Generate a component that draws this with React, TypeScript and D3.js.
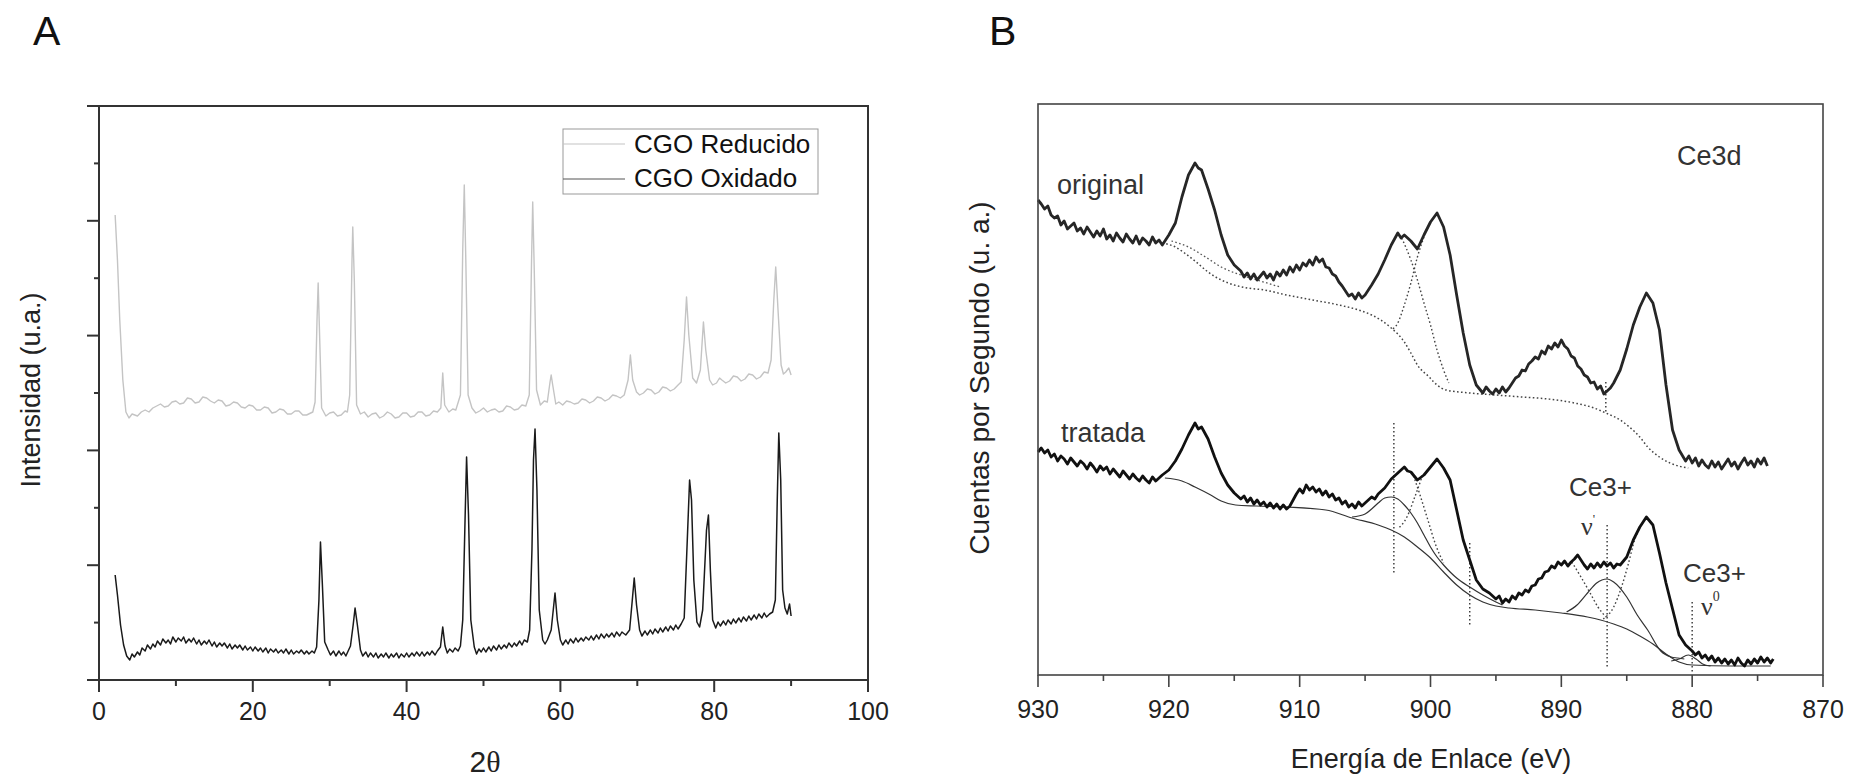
import React from 'react';
import * as d3 from 'd3';

type P = [number, number];

// ---------- Panel A (XRD) data ----------
const xrdXTicks = [0, 20, 40, 60, 80, 100];
const xrdXMinor = [10, 30, 50, 70, 90];
const xrdYTicks = d3.range(11).map((i) => i * 57.4);
const xrdSeriesNames = ['CGO Reducido', 'CGO Oxidado'];

const reducido: P[] = [
  [2.1, 465], [2.4, 420], [2.7, 360], [3.1, 300], [3.5, 268], [3.9, 262], [4.3, 266], [5, 264], [5.5, 268], [6, 270], [6.5, 268], [7, 272],
  [7.5, 274], [8, 276], [8.5, 273], [9, 274], [9.5, 278], [10, 279], [10.5, 276], [11, 277], [11.5, 282], [12, 281], [12.5, 277], [13, 278], [13.5, 283], [14, 282], [14.5, 279], [15, 277], [15.5, 280], [16, 279], [16.5, 274], [17, 275],
  [17.5, 278], [18, 277], [18.5, 273], [19, 272], [19.5, 275], [20, 274], [20.5, 270], [21, 270], [21.5, 273], [22, 272], [22.5, 267], [23, 268], [23.5, 271], [24, 270], [24.5, 266], [25, 266], [25.5, 269], [26, 269], [26.5, 265], [27, 265],
  [27.8, 268], [28.1, 278], [28.35, 360], [28.5, 397], [28.65, 355], [28.95, 272], [29.5, 264], [30, 267], [30.5, 268],
  [31, 264], [31.5, 265], [32, 269], [32.3, 268], [32.6, 285], [32.9, 420], [33.0, 453], [33.2, 400], [33.5, 275], [34.0, 266],
  [34.5, 268], [35, 263], [35.5, 266], [36, 267], [36.5, 262], [37, 264], [37.5, 268], [38, 266], [38.5, 262], [39, 263], [39.5, 267], [40, 267], [40.5, 263], [41, 264], [41.5, 268], [42, 268], [42.5, 264], [43, 265], [43.5, 269], [44, 268],
  [44.45, 272], [44.7, 307], [44.95, 275], [45.5, 268], [46, 271], [46.4, 270], [47.0, 285], [47.3, 430], [47.5, 495],
  [47.7, 420], [48.0, 285], [48.5, 272], [49, 267], [49.5, 269], [50, 272], [50.5, 268], [51, 270], [51.5, 271], [52, 268], [52.5, 269], [53, 274], [53.5, 273],
  [54, 270], [54.5, 271], [55, 275], [55.5, 274], [55.95, 285], [56.25, 420], [56.4, 478], [56.6, 410], [56.9, 290], [57.4, 275],
  [57.9, 279], [58.3, 278], [58.65, 298], [58.8, 305], [59.0, 295], [59.4, 276], [59.8, 278], [60.3, 275], [60.8, 279], [61.3, 278], [61.8, 276], [62.3, 277],
  [62.8, 281], [63.3, 280], [63.8, 277], [64.3, 279], [64.8, 283], [65.3, 282], [65.8, 279], [66.3, 281], [66.8, 285], [67.3, 284], [67.8, 282], [68.3, 285], [68.8, 300], [69.1, 325],
  [69.4, 300], [69.9, 288], [70.3, 285], [70.8, 287], [71.3, 291], [71.8, 290], [72.3, 286], [72.8, 288], [73.3, 293], [73.8, 292], [74.3, 289], [74.8, 291], [75.3, 295], [75.7, 298],
  [76.1, 340], [76.4, 383], [76.7, 345], [77.2, 302], [77.7, 297], [78.2, 310], [78.6, 358], [78.9, 330],
  [79.4, 300], [79.8, 295], [80.3, 297], [80.7, 302], [81, 300], [81.5, 297], [82, 299], [82.5, 304], [83, 303], [83.5, 299], [84, 301], [84.5, 306], [85, 305], [85.5, 301], [86, 303], [86.5, 308], [87, 307],
  [87.4, 320], [87.75, 380], [88.0, 413], [88.3, 370], [88.7, 315], [89.0, 306], [89.3, 308], [89.7, 312], [90.0, 305],
];

const oxidado: P[] = [
  [2.1, 105], [2.4, 85], [2.8, 55], [3.2, 35], [3.6, 24], [4.0, 20], [4.3, 26], [4.6, 23], [5, 28], [5.3, 25], [5.6, 32], [6, 29],
  [6.3, 35], [6.7, 31], [7, 36], [7.3, 33], [7.6, 39], [8, 35], [8.3, 41], [8.7, 37], [9, 40], [9.3, 36], [9.6, 43], [10, 38], [10.3, 42], [10.7, 39], [11, 43],
  [11.3, 37], [11.7, 41], [12, 38], [12.3, 42], [12.7, 36], [13, 40], [13.3, 35], [13.7, 39], [14, 36], [14.3, 40], [14.7, 34], [15, 38], [15.3, 33], [15.7, 37], [16, 34],
  [16.3, 37], [16.7, 32], [17, 36], [17.3, 31], [17.7, 35], [18, 32], [18.3, 35], [18.7, 30], [19, 34], [19.3, 30], [19.7, 33], [20, 29], [20.3, 33], [20.7, 29], [21, 32],
  [21.3, 28], [21.7, 32], [22, 27], [22.3, 31], [22.7, 28], [23, 31], [23.3, 27], [23.7, 30], [24, 27], [24.3, 31], [24.7, 26], [25, 30], [25.3, 26], [25.7, 29], [26, 27],
  [26.3, 30], [26.7, 26], [27, 29], [27.3, 26], [27.7, 29], [28, 27], [28.3, 33], [28.6, 80], [28.8, 138], [29.05, 95], [29.35, 38],
  [29.8, 30], [30.1, 25], [30.5, 29], [30.8, 24], [31.2, 29], [31.5, 25], [31.8, 28], [32.1, 24], [32.4, 29], [32.7, 34], [33.05, 55], [33.3, 72],
  [33.6, 55], [34.0, 30], [34.3, 24], [34.7, 28], [35, 23], [35.3, 27], [35.7, 23], [36, 27], [36.3, 22], [36.7, 26], [37, 23], [37.3, 27], [37.7, 22], [38, 26],
  [38.3, 23], [38.7, 27], [39, 22], [39.3, 26], [39.7, 23], [40, 27], [40.3, 23], [40.7, 27], [41, 24], [41.3, 28], [41.7, 24], [42, 28], [42.3, 24], [42.7, 28], [43, 25],
  [43.3, 29], [43.7, 25], [44, 29], [44.4, 33], [44.7, 53], [45.0, 34], [45.3, 27], [45.6, 31], [46, 28], [46.3, 32], [46.7, 29], [47, 34],
  [47.3, 60], [47.6, 160], [47.8, 223], [48.05, 165], [48.35, 60], [48.8, 33], [49.1, 26], [49.4, 31], [49.7, 28],
  [50, 32], [50.3, 28], [50.7, 33], [51, 29], [51.3, 34], [51.7, 30], [52, 35], [52.3, 31], [52.7, 35], [53, 32], [53.3, 37], [53.7, 33], [54, 37], [54.3, 34],
  [54.7, 39], [55, 35], [55.3, 40], [55.7, 38], [56.0, 50], [56.3, 130], [56.5, 220], [56.7, 251], [56.95, 190],
  [57.25, 70], [57.7, 40], [58.0, 36], [58.3, 40], [58.8, 50], [59.3, 87], [59.6, 60], [60.0, 40], [60.3, 35], [60.7, 40],
  [61, 36], [61.3, 41], [61.7, 37], [62, 42], [62.3, 38], [62.7, 42], [63, 39], [63.3, 43], [63.7, 40], [64, 44], [64.3, 40], [64.7, 45], [65, 41], [65.3, 46],
  [65.7, 42], [66, 46], [66.3, 43], [66.7, 47], [67, 43], [67.3, 48], [67.7, 44], [68, 48], [68.5, 45], [69.0, 50], [69.35, 80], [69.6, 102], [69.9, 75],
  [70.3, 50], [70.6, 44], [71, 49], [71.3, 45], [71.7, 50], [72, 46], [72.3, 51], [72.7, 47], [73, 52], [73.3, 48], [73.7, 53], [74, 49], [74.3, 54], [74.7, 50],
  [75, 55], [75.3, 51], [75.7, 56], [76.1, 62], [76.5, 140], [76.8, 200], [77.05, 180], [77.35, 100],
  [77.75, 58], [78.1, 53], [78.5, 70], [79.0, 150], [79.25, 165], [79.5, 110], [79.8, 60], [80.2, 52],
  [80.5, 58], [80.8, 54], [81.2, 59], [81.5, 55], [81.8, 60], [82.2, 56], [82.5, 61], [82.8, 57], [83.2, 62], [83.5, 58], [83.8, 63], [84.2, 59], [84.5, 64],
  [84.8, 60], [85.2, 65], [85.5, 61], [85.8, 66], [86.2, 62], [86.5, 67], [86.8, 63], [87.2, 66], [87.6, 68], [87.95, 80], [88.2, 180],
  [88.4, 247], [88.65, 200], [88.9, 90], [89.2, 72], [89.5, 66], [89.8, 76], [90.0, 64],
];

// ---------- Panel B (XPS Ce3d) data ----------
const xpsXTicks = [930, 920, 910, 900, 890, 880, 870];
const xpsXMinor = [925, 915, 905, 895, 885, 875];

const original: P[] = [
  [930.0, 475], [929.75, 471], [929.5, 466], [929.25, 469], [929.0, 460], [928.75, 457], [928.5, 459], [928.25, 450],
  [928.0, 454], [927.75, 446], [927.5, 449], [927.25, 452], [927.0, 444], [926.75, 447], [926.5, 441], [926.25, 448],
  [926.0, 443], [925.75, 438], [925.5, 444], [925.25, 439], [925.0, 446], [924.75, 436], [924.5, 440], [924.25, 434],
  [924.0, 442], [923.75, 437], [923.5, 433], [923.25, 441], [923.0, 436], [922.75, 432], [922.5, 439], [922.25, 431],
  [922.0, 437], [921.75, 434], [921.5, 430], [921.25, 438], [921.0, 432], [920.75, 435], [920.5, 430],
  [920.0, 440], [919.5, 452], [919.0, 478], [918.5, 500], [918.0, 512], [917.75, 507], [917.5, 505], [917.0, 486],
  [916.5, 465], [916.0, 440], [915.5, 420], [915.0, 410],
  [914.5, 404], [914.25, 398], [914.0, 402], [913.75, 396], [913.5, 401], [913.25, 395], [913.0, 399], [912.75, 403],
  [912.5, 397], [912.25, 401], [912.0, 395], [911.75, 403], [911.5, 399], [911.25, 405], [911.0, 400], [910.75, 408],
  [910.5, 403], [910.25, 410], [910.0, 405], [909.75, 412], [909.5, 409], [909.25, 415], [909.0, 410], [908.75, 418],
  [908.5, 413], [908.25, 416], [908.0, 408], [907.75, 407], [907.5, 401], [907.25, 399], [907.0, 393], [906.75, 389],
  [906.5, 384], [906.25, 379], [906.0, 381], [905.75, 376], [905.5, 382], [905.25, 377], [905.0, 380],
  [904.5, 390], [904.0, 401], [903.5, 415], [903.0, 430], [902.5, 442], [902.25, 437], [902.0, 440], [901.5, 434],
  [901.0, 426], [900.5, 440], [900.0, 453], [899.5, 462], [899.0, 448], [898.5, 420], [898.0, 380], [897.5, 342],
  [897.0, 310], [896.5, 290], [896.25, 286], [896.0, 282], [895.75, 288], [895.5, 284], [895.25, 281], [895.0, 286],
  [894.75, 282], [894.5, 288], [894.25, 283], [894.0, 287], [893.75, 292], [893.5, 297], [893.25, 299], [893.0, 305],
  [892.75, 304], [892.5, 311], [892.25, 314], [892.0, 318], [891.75, 316], [891.5, 324], [891.25, 321], [891.0, 329],
  [890.75, 326], [890.5, 332], [890.25, 328], [890.0, 335], [889.75, 329], [889.5, 326], [889.25, 319], [889.0, 317],
  [888.75, 309], [888.5, 306], [888.25, 300], [888.0, 298], [887.75, 292], [887.5, 293], [887.25, 286], [887.0, 289],
  [886.75, 281], [886.5, 284], [886.25, 287], [886.0, 292], [885.5, 305], [885.0, 326], [884.5, 350], [884.0, 368],
  [883.5, 382], [883.0, 372], [882.5, 345], [882.0, 290], [881.5, 245], [881.0, 225],
  [880.5, 214], [880.25, 219], [880.0, 212], [879.75, 217], [879.5, 209], [879.25, 215], [879.0, 210], [878.75, 207],
  [878.5, 214], [878.25, 208], [878.0, 213], [877.75, 206], [877.5, 211], [877.25, 216], [877.0, 209], [876.75, 213],
  [876.5, 206], [876.25, 212], [876.0, 217], [875.75, 210], [875.5, 214], [875.25, 208], [875.0, 216], [874.75, 211],
  [874.5, 217], [874.25, 209],
];

const originalBackground: P[] = [
  [920.5, 432], [919.5, 428], [918.8, 422], [918.0, 414], [917.0, 403], [916.0, 395], [915.0, 390], [914.0, 387],
  [912.7, 385], [911.0, 380], [909.0, 375], [907.0, 370], [905.5, 365], [904.5, 360], [903.8, 355], [903.0, 347],
  [902.0, 333], [901.5, 322], [901.0, 310], [900.1, 298], [899.5, 290], [898.8, 285], [897.0, 282], [895.0, 280],
  [893.0, 278], [891.0, 276], [889.0, 272], [887.5, 267], [886.6, 262], [885.5, 255], [884.8, 248], [884.0, 238],
  [883.4, 228], [882.5, 218], [881.7, 212], [880.3, 207],
];
const originalBackground2: P[] = [
  [919.8, 434], [918.5, 428], [917.2, 418], [916.0, 408], [914.5, 400], [913.0, 394], [911.5, 388],
];
const originalComp1: P[] = [
  [902.2, 437], [901.5, 415], [901.0, 395], [900.5, 372], [900.0, 350], [899.5, 325], [899.0, 305], [898.6, 292],
];
const originalComp2: P[] = [
  [900.5, 438], [901.0, 418], [901.5, 392], [902.0, 370], [902.5, 352], [903.0, 345],
];

const tratada: P[] = [
  [930.0, 223], [929.75, 227], [929.5, 222], [929.25, 225], [929.0, 218], [928.75, 221], [928.5, 214], [928.25, 219],
  [928.0, 216], [927.75, 211], [927.5, 217], [927.25, 213], [927.0, 209], [926.75, 214], [926.5, 211], [926.25, 206],
  [926.0, 212], [925.75, 208], [925.5, 203], [925.25, 209], [925.0, 205], [924.75, 208], [924.5, 201], [924.25, 206],
  [924.0, 202], [923.75, 198], [923.5, 204], [923.25, 200], [923.0, 196], [922.75, 201], [922.5, 197], [922.25, 194],
  [922.0, 199], [921.75, 195], [921.5, 192], [921.25, 198], [921.0, 194], [920.75, 197], [920.5, 200],
  [920.0, 205], [919.5, 214], [919.0, 226], [918.5, 240], [918.0, 252], [917.75, 246], [917.5, 248], [917.0, 236],
  [916.5, 218], [916.0, 202], [915.5, 190],
  [915.0, 182], [914.75, 179], [914.5, 176], [914.25, 179], [914.0, 173], [913.75, 177], [913.5, 171], [913.25, 175],
  [913.0, 170], [912.75, 173], [912.5, 168], [912.25, 172], [912.0, 167], [911.75, 171], [911.5, 166], [911.25, 170],
  [911.0, 166], [910.75, 169], [910.5, 175], [910.25, 181], [910.0, 186], [909.75, 182], [909.5, 190], [909.25, 185],
  [909.0, 188], [908.75, 183], [908.5, 186], [908.25, 180], [908.0, 184], [907.75, 178], [907.5, 181], [907.25, 175],
  [907.0, 177], [906.75, 171], [906.5, 174], [906.25, 168], [906.0, 171], [905.75, 167], [905.5, 173], [905.25, 169],
  [905.0, 172], [904.75, 175], [904.5, 178], [904.25, 176], [904.0, 181],
  [903.5, 187], [903.0, 196], [902.5, 202], [902.0, 208], [901.75, 204], [901.5, 203], [901.0, 195], [900.5, 200],
  [900.0, 208], [899.5, 216], [899.0, 207], [898.5, 195], [898.0, 165], [897.5, 135], [897.0, 115], [896.5, 95],
  [896.0, 86], [895.5, 82], [895.0, 76], [894.75, 79],
  [894.5, 72], [894.25, 76], [894.0, 73], [893.75, 79], [893.5, 76], [893.25, 82], [893.0, 80], [892.75, 85],
  [892.5, 83], [892.25, 89], [892.0, 90], [891.75, 96], [891.5, 97], [891.25, 103], [891.0, 104], [890.75, 109],
  [890.5, 107], [890.25, 113], [890.0, 110], [889.75, 114], [889.5, 109], [889.25, 113], [889.0, 116], [888.75, 120],
  [888.5, 115], [888.25, 110], [888.0, 106], [887.75, 111], [887.5, 107], [887.25, 112], [887.0, 108], [886.75, 113],
  [886.5, 109], [886.25, 112], [886.0, 107], [885.75, 111], [885.5, 110],
  [885.0, 118], [884.5, 135], [884.0, 148], [883.5, 158], [883.0, 150], [882.5, 122], [882.0, 92], [881.5, 66],
  [881.0, 40], [880.5, 30],
  [880.0, 24], [879.75, 20], [879.5, 23], [879.25, 17], [879.0, 20], [878.75, 15], [878.5, 19], [878.25, 13],
  [878.0, 17], [877.75, 12], [877.5, 16], [877.25, 11], [877.0, 15], [876.75, 10], [876.5, 17], [876.25, 12],
  [876.0, 9], [875.75, 15], [875.5, 11], [875.25, 16], [875.0, 12], [874.75, 18], [874.5, 13], [874.25, 17],
  [874.0, 12], [873.8, 16],
];

const tratadaBackground: P[] = [
  [920.3, 197], [919.0, 194], [918.0, 188], [916.8, 180], [916.0, 174], [914.9, 170], [913.3, 169], [911.0, 168],
  [908.0, 165], [906.0, 157], [904.0, 150], [903.0, 145], [902.0, 138], [901.0, 128], [900.0, 117], [899.0, 103],
  [898.0, 90], [897.0, 80], [896.0, 73], [895.0, 69], [894.0, 67], [892.0, 65], [890.0, 62], [888.0, 58],
  [887.0, 55], [886.0, 51], [885.0, 46], [884.0, 39], [883.0, 31], [882.0, 21], [881.0, 13], [880.0, 10],
  [877.0, 9], [874.0, 9],
];
const tratadaFit903: P[] = [
  [906.0, 158], [905.0, 161], [904.5, 166], [904.0, 172], [903.5, 177], [903.0, 178], [902.5, 176], [902.0, 170],
  [901.5, 162], [901.0, 152], [900.5, 140], [900.0, 128], [899.5, 118], [899.0, 110], [898.5, 103], [898.0, 97],
  [897.0, 88], [896.0, 80], [895.0, 73], [894.5, 70],
];
const tratadaCe3Prime: P[] = [
  [889.6, 63], [888.8, 70], [888.0, 82], [887.3, 92], [886.5, 96], [886.0, 93], [885.0, 78], [884.2, 60],
  [883.4, 45], [882.4, 24], [881.6, 18], [881.1, 17], [880.6, 16],
];
const tratadaCe3Zero: P[] = [
  [881.6, 14], [881.0, 16], [880.3, 20], [879.7, 16], [879.2, 11], [878.6, 9],
];
const tratadaDotted: P[][] = [
  [[900.6, 200], [901.2, 178], [901.8, 158], [902.5, 146]],
  [[901.4, 203], [900.8, 180], [900.2, 155], [899.6, 130], [899.0, 112]],
  [[886.8, 56], [886.0, 68], [885.4, 88], [884.9, 110], [884.4, 135], [883.9, 150]],
  [[889.2, 113], [888.5, 98], [887.8, 82], [887.2, 68], [886.6, 58]],
];
// vertical marker lines: [eV, top, bottom]
const markerLines: [number, number, number][] = [
  [902.8, 252, 102],
  [897.0, 132, 50],
  [886.5, 150, 7],
  [880.0, 73, 2],
  [886.6, 293, 262],
];

const FONT = 'Liberation Sans, Arial, Helvetica, sans-serif';
const SERIF = 'Liberation Serif, Times New Roman, serif';

export default function App() {
  // Panel A scales
  const xA = d3.scaleLinear().domain([0, 100]).range([99, 868]);
  const yA = d3.scaleLinear().domain([0, 574]).range([680, 106]);
  // Panel B scales
  const xB = d3.scaleLinear().domain([930, 870]).range([1038, 1823]);
  const yB = d3.scaleLinear().domain([0, 571]).range([675, 104]);

  const lineA = d3.line<P>().x((d) => xA(d[0])).y((d) => yA(d[1]));
  const lineB = d3.line<P>().x((d) => xB(d[0])).y((d) => yB(d[1]));
  const smoothB = d3
    .line<P>()
    .x((d) => xB(d[0]))
    .y((d) => yB(d[1]))
    .curve(d3.curveMonotoneX);

  const dot = '1.6 2.4';

  return (
    <svg
      width={1850}
      height={779}
      style={{ position: 'absolute', left: 0, top: 0, display: 'block', background: '#fff' }}
      fontFamily={FONT}
    >
      <rect x={0} y={0} width={1850} height={779} fill="#fff" />

      {/* ================= Panel A ================= */}
      <text x={33} y={45} fontSize={41} fill="#111">A</text>

      {/* series */}
      <path d={lineA(reducido) || ''} fill="none" stroke="#c4c4c4" strokeWidth={1.4} strokeLinejoin="round" />
      <path d={lineA(oxidado) || ''} fill="none" stroke="#1a1a1a" strokeWidth={1.5} strokeLinejoin="round" />

      {/* frame */}
      <rect x={xA(0)} y={yA(574)} width={xA(100) - xA(0)} height={yA(0) - yA(574)} fill="none" stroke="#333" strokeWidth={2} />

      {/* x ticks */}
      {xrdXTicks.map((t) => (
        <g key={'xa' + t}>
          <line x1={xA(t)} x2={xA(t)} y1={yA(0)} y2={yA(0) + 12} stroke="#333" strokeWidth={2} />
          <text x={xA(t)} y={720} fontSize={25} textAnchor="middle" fill="#222">{t}</text>
        </g>
      ))}
      {xrdXMinor.map((t) => (
        <line key={'xam' + t} x1={xA(t)} x2={xA(t)} y1={yA(0)} y2={yA(0) + 6} stroke="#333" strokeWidth={2} />
      ))}
      {/* y ticks */}
      {xrdYTicks.map((t, i) => (
        <line key={'ya' + i} x1={xA(0)} x2={xA(0) - (i % 2 === 0 ? 12 : 5)} y1={yA(t)} y2={yA(t)} stroke="#333" strokeWidth={2} />
      ))}

      {/* axis titles */}
      <text x={485} y={772} fontSize={30} textAnchor="middle" fill="#222">
        2<tspan fontFamily={SERIF}>θ</tspan>
      </text>
      <text transform="translate(40,390) rotate(-90)" fontSize={27} textAnchor="middle" fill="#222">
        Intensidad (u.a.)
      </text>

      {/* legend */}
      <rect x={563} y={129} width={255} height={65} fill="#fff" stroke="#999" strokeWidth={1} />
      <line x1={563} x2={625} y1={144} y2={144} stroke="#c4c4c4" strokeWidth={1.2} />
      <line x1={563} x2={625} y1={179} y2={179} stroke="#555" strokeWidth={1.2} />
      <text x={634} y={153} fontSize={26} fill="#111">{xrdSeriesNames[0]}</text>
      <text x={634} y={187} fontSize={26} fill="#111">{xrdSeriesNames[1]}</text>

      {/* ================= Panel B ================= */}
      <text x={989} y={45} fontSize={41} fill="#111">B</text>

      {/* marker lines */}
      {markerLines.map((m, i) => (
        <line key={'mk' + i} x1={xB(m[0])} x2={xB(m[0])} y1={yB(m[1])} y2={yB(m[2])} stroke="#333" strokeWidth={1.4} strokeDasharray={dot} />
      ))}

      {/* original fits */}
      <path d={smoothB(originalBackground) || ''} fill="none" stroke="#444" strokeWidth={1.5} strokeDasharray={dot} />
      <path d={smoothB(originalBackground2) || ''} fill="none" stroke="#555" strokeWidth={1.3} strokeDasharray={dot} />
      <path d={smoothB(originalComp1) || ''} fill="none" stroke="#444" strokeWidth={1.4} strokeDasharray={dot} />
      <path d={smoothB(originalComp2) || ''} fill="none" stroke="#444" strokeWidth={1.4} strokeDasharray={dot} />

      {/* tratada fits */}
      <path d={smoothB(tratadaBackground) || ''} fill="none" stroke="#333" strokeWidth={1.2} />
      <path d={smoothB(tratadaFit903) || ''} fill="none" stroke="#333" strokeWidth={1.2} />
      <path d={smoothB(tratadaCe3Prime) || ''} fill="none" stroke="#333" strokeWidth={1.2} />
      <path d={smoothB(tratadaCe3Zero) || ''} fill="none" stroke="#333" strokeWidth={1.2} />
      {tratadaDotted.map((s, i) => (
        <path key={'td' + i} d={smoothB(s) || ''} fill="none" stroke="#444" strokeWidth={1.4} strokeDasharray={dot} />
      ))}

      {/* spectra */}
      <path d={lineB(original) || ''} fill="none" stroke="#262626" strokeWidth={2.8} strokeLinejoin="round" />
      <path d={lineB(tratada) || ''} fill="none" stroke="#111" strokeWidth={2.8} strokeLinejoin="round" />

      {/* frame */}
      <rect x={xB(930)} y={yB(571)} width={xB(870) - xB(930)} height={yB(0) - yB(571)} fill="none" stroke="#444" strokeWidth={1.6} />

      {/* x ticks */}
      {xpsXTicks.map((t) => (
        <g key={'xb' + t}>
          <line x1={xB(t)} x2={xB(t)} y1={yB(0)} y2={yB(0) + 12} stroke="#444" strokeWidth={1.6} />
          <text x={xB(t)} y={718} fontSize={25} textAnchor="middle" fill="#222">{t}</text>
        </g>
      ))}
      {xpsXMinor.map((t) => (
        <line key={'xbm' + t} x1={xB(t)} x2={xB(t)} y1={yB(0)} y2={yB(0) + 6} stroke="#444" strokeWidth={1.6} />
      ))}

      {/* labels */}
      <text x={1431} y={768} fontSize={27} textAnchor="middle" fill="#222">Energía de Enlace (eV)</text>
      <text transform="translate(989,378) rotate(-90)" fontSize={28} textAnchor="middle" fill="#222">
        Cuentas por Segundo (u. a.)
      </text>
      <text x={1057} y={194} fontSize={27} fill="#333">original</text>
      <text x={1061} y={442} fontSize={27} fill="#333">tratada</text>
      <text x={1677} y={165} fontSize={27} fill="#333">Ce3d</text>
      <text x={1569} y={496} fontSize={26} fill="#333">Ce3+</text>
      <text x={1683} y={582} fontSize={26} fill="#333">Ce3+</text>
      <text x={1581} y={535} fontSize={26} fontFamily={SERIF} fill="#333">
        ν<tspan fontSize={13} dy={-12}>'</tspan>
      </text>
      <text x={1701} y={615} fontSize={26} fontFamily={SERIF} fill="#333">
        ν<tspan fontSize={14} dy={-14}>0</tspan>
      </text>
    </svg>
  );
}
